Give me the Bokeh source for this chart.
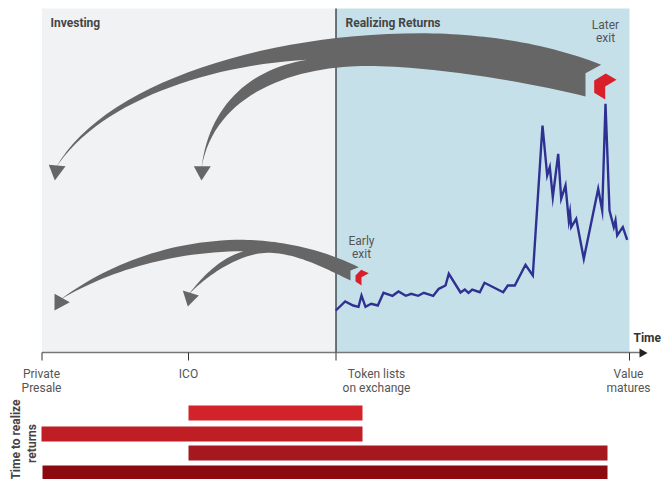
from bokeh.plotting import figure
from bokeh.models import Range1d
from bokeh.core.properties import value
from bokeh.embed import file_html
from bokeh.resources import INLINE
import numpy as np

# token price line
price_x = [335.3,344.7,352.7,358,361,365,370.7,377.3,383,392,398,405.3,410.7,417.7,423.3,432.7,438.3,445,448.3,460,464.3,468,471.7,479.3,484,502.7,507.3,514.3,525,532.3,542,546.7,549.3,552.3,557.7,560.7,565,568.3,569.5,570.7,575.7,583.3,597.7,601.7,605,609,613.3,615,616.7,622.3,626.7]
price_y = [310,301,305,306.3,295,306.3,303.3,305,292.3,295.3,291,295.3,293.3,295.3,292.3,295.3,288.3,285,273.3,292,289,292.3,289,291.7,282.3,291.7,285,285,264.3,275,125,175,166.7,196.7,153.3,198.3,185,220,212,226.7,218.3,258.3,188.3,210,103.3,210,226.7,220,235,226.7,239.3]

# bars: start, end, top, bottom
bar_start = [188, 41, 188, 42]
bar_end = [362, 362, 607, 607]
bar_top = [405, 426, 445, 465]
bar_bottom = [420, 441, 460, 480]
bar_colors = ["#d2232a", "#be1e24", "#a5181f", "#8b0a10"]

ticks_x = [41.5, 188, 335.5, 629]

# ribbon outlines, as cubic Bezier segments (start, control, control, end)
upper_ribbon = [
    [(600.7,64.3),(545,42),(480,33),(420,32.7)],
    [(420,32.7),(260,33),(100,85),(55,168)],
    [(55,168),(95,105),(200,65),(306.7,59.3)],
    [(306.7,59.3),(250,68),(208,105),(201,168)],
    [(201,168),(212,100),(280,70),(350,66)],
    [(350,66),(400,63),(500,75),(585,96)],
    [(585,96),(585,88),(585,80),(585,72.7)],
]
lower_ribbon = [
    [(358.3,266.7),(320,248),(280,240),(243,239.3)],
    [(243,239.3),(170,239),(105,265),(60,299)],
    [(60,299),(105,272),(170,251),(243,250.7)],
    [(243,250.7),(222,257),(205,272),(188,294)],
    [(188,294),(210,272),(240,253),(266.7,252.3)],
    [(266.7,252.3),(295,252),(325,268),(350,280)],
    [(350,280),(350,277),(350,273),(350,270)],
]

heads = [[(48.3,164.3),(65,165.7),(54.3,180)],
         [(193.3,165.7),(210.3,165.7),(201,180)],
         [(54,293.3),(69.3,301.7),(54,310)],
         [(182.3,290),(198.3,295),(187.3,306)]]
cubes = [[(593.7,80),(605.3,73),(616,79.3),(604.7,86),(604.7,99),(593.7,92.3)],
         [(355,275),(360.7,269.3),(368.3,272.7),(361,276.7),(361,285),(355,281)]]

def bezier_outline(segments, n=30):
    t = np.linspace(0, 1, n)[:, None]
    out = []
    for s in segments:
        a, b, c, d = [np.array(q, float) for q in s]
        out.append((1-t)**3*a + 3*(1-t)**2*t*b + 3*(1-t)*t**2*c + t**3*d)
    return np.vstack(out)

p = figure(width=662, height=479, x_range=Range1d(0, 662), y_range=Range1d(479, 0),
           toolbar_location=None, output_backend="svg", min_border=0,
           background_fill_color="white", border_fill_color="white", outline_line_color=None)
p.axis.visible = False
p.grid.visible = False

p.quad(left=[41.5], right=[335.5], top=[8], bottom=[352], fill_color="#f1f2f4", line_color=None)
p.quad(left=[335.5], right=[629], top=[8], bottom=[352], fill_color="#c6e0ea", line_color=None)

p.segment(x0=[335.5], y0=[8], x1=[335.5], y1=[352], line_color="#222222", line_width=1.2)

GREY = "#666666"
for seg in (upper_ribbon, lower_ribbon):
    outline = bezier_outline(seg)
    p.patch(outline[:, 0], outline[:, 1], fill_color=GREY, line_color=None)
for h in heads:
    p.patch([a for a, b in h], [b for a, b in h], fill_color=GREY, line_color=None)
for c in cubes:
    p.patch([a for a, b in c], [b for a, b in c], fill_color="#d9202a", line_color=None)

p.line(price_x, price_y, line_color="#2e3192", line_width=2.4, line_join="miter")

# axis, ticks
p.segment(x0=[41.5], y0=[352], x1=[642], y1=[352], line_color="#777777", line_width=1.6)
p.segment(x0=ticks_x, y0=[352]*4, x1=ticks_x, y1=[360]*4, line_color="#333333", line_width=1)
p.patch([639, 647, 639], [348, 352.5, 357], fill_color="#222222", line_color=None)

p.quad(left=bar_start, right=bar_end, top=bar_top, bottom=bar_bottom, fill_color=bar_colors, line_color=None)

def label(x, y, s, bold=False, align="center", color="#555555", size="12px", angle=0):
    p.text([x], [y], text=[s], text_font=value("Roboto"), text_font_size=size,
           text_font_style="bold" if bold else "normal", text_align=align,
           text_baseline="middle", text_color=color, angle=angle)

label(50, 22, "Investing", True, "left", "#444444")
label(345, 22, "Realizing Returns", True, "left", "#444444")
label(605, 24.5, "Later")
label(605, 37.5, "exit")
label(361, 240.5, "Early")
label(361, 253.5, "exit")
label(633, 337, "Time", True, "left", "#333333")
label(41, 373, "Private")
label(41, 387, "Presale")
label(188, 373, "ICO")
label(376, 373, "Token lists")
label(376, 387, "on exchange")
label(628, 373, "Value")
label(628, 387, "matures")
label(15.5, 439, "Time to realize", True, "center", "#444444", "12px", np.pi/2)
label(31, 443, "returns", True, "center", "#444444", "12px", np.pi/2)

open("out.html", "w").write(file_html(p, INLINE))
